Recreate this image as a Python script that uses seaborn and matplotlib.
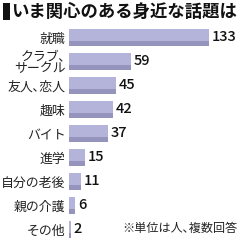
import matplotlib
matplotlib.use("Agg")
import matplotlib.pyplot as plt
import seaborn as sns
import pandas as pd
from matplotlib.patches import Rectangle

categories = ["就職", "クラブ､\nサークル", "友人､恋人", "趣味", "バイト", "進学", "自分の老後", "親の介護", "その他"]
values = [133, 59, 45, 42, 37, 15, 11, 6, 2]
title = "いま関心のある身近な話題は"
note = "※単位は人､複数回答"

sns.set_theme(style="white")
plt.rcParams['font.family'] = ['Noto Sans CJK JP', 'DejaVu Sans']

df = pd.DataFrame({"cat": categories, "val": values})

fig = plt.figure(figsize=(2.4, 2.4), dpi=100)
fig.patch.set_facecolor("white")
ax = fig.add_axes([69/240, 0, 171/240, 220/240])

sns.barplot(data=df, y="cat", x="val", orient="h", color="#b4b4da", saturation=1,
            width=0.71, ax=ax, edgecolor="none", linewidth=0)

# darker strip at bottom of each bar
for p in list(ax.patches):
    x0, y0 = p.get_x(), p.get_y()
    w, h = p.get_width(), p.get_height()
    ax.add_patch(Rectangle((x0, y0 + h * 0.68), w, h * 0.32, facecolor="#9494bc",
                           edgecolor="none", linewidth=0))

ax.bar_label(ax.containers[0], labels=[str(v) for v in values], padding=2,
             fontsize=10.5, color="#111111", fontweight="medium")

ax.set_xlim(0, 171/1.053)
ax.set_ylim(-0.729 + 220/24, -0.729)
ax.set_xlabel("")
ax.set_ylabel("")
ax.set_xticks([])
ax.tick_params(axis="y", length=0, pad=2.5)
for lab in ax.get_yticklabels():
    lab.set_fontsize(9.3)
    lab.set_color("#222222")
    lab.set_linespacing(0.95)
for s in ax.spines.values():
    s.set_visible(False)

fig.text(11/240, 1 - 12/240, title, fontsize=12.5, fontweight="bold",
         va="center", ha="left", color="#111111")
fig.patches.append(Rectangle((3/240, 1 - 20/240), 7/240, 17/240, transform=fig.transFigure,
                             facecolor="#111111", edgecolor="none"))
fig.text(238/240, 1 - 228/240, note, fontsize=8.7, ha="right", va="center", color="#222222")

fig.savefig("out.png", dpi=100, facecolor="white")
